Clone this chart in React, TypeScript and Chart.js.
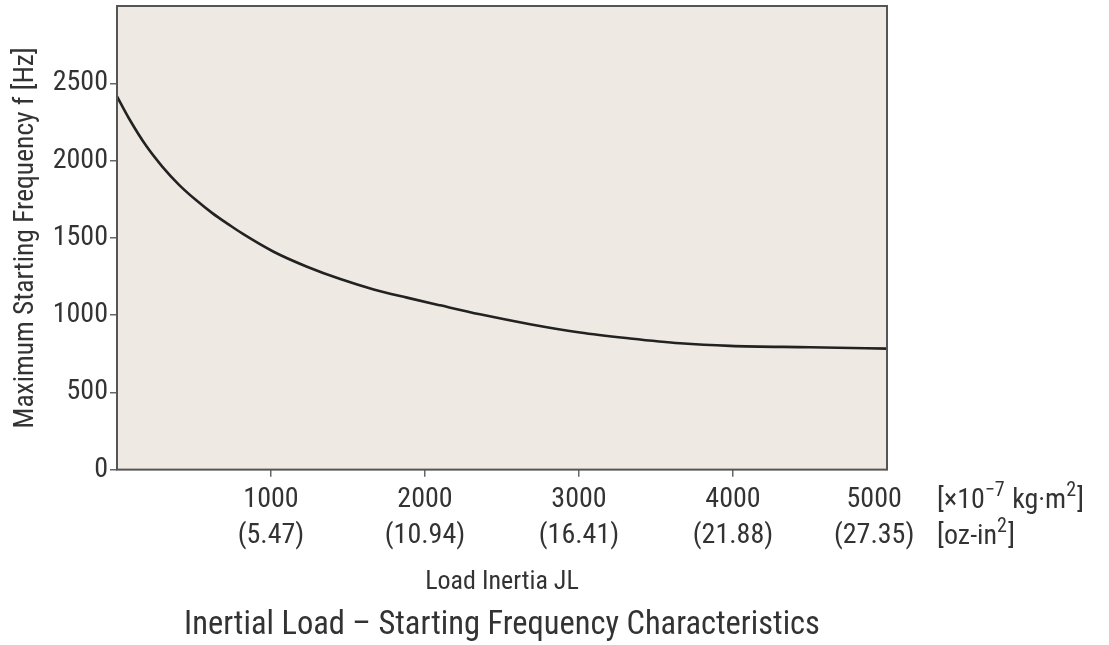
import React, { useEffect, useRef } from "react";
import { Chart, registerables } from "chart.js";

Chart.register(...registerables);

// Load inertia JL [x10^-7 kg·m²]
const inertia = [0, 78, 186, 294, 403, 511, 619, 727, 810, 1017, 1234, 1450, 1667, 1883, 2099, 2357, 2682, 3006, 3331, 3656, 3981, 4500, 5000];
// Maximum starting frequency f [Hz]
const frequency = [2415, 2272, 2100, 1961, 1843, 1746, 1660, 1585, 1530, 1410, 1313, 1233, 1166, 1113, 1063, 1005, 941, 887, 849, 818, 801, 792, 783];

const xTickValues = [1000, 2000, 3000, 4000, 5000];
const xTickOz = ["(5.47)", "(10.94)", "(16.41)", "(21.88)", "(27.35)"];
const yTickValues = [0, 500, 1000, 1500, 2000, 2500];

const FONT = "'Liberation Sans Narrow', 'Roboto Condensed', 'Liberation Sans', Arial, sans-serif";
const TEXT = "#333333";
const BG = "#eeeae3";

const areaPlugin = {
  id: "areaPlugin",
  beforeDraw(chart: any) {
    const { ctx, chartArea: a } = chart;
    ctx.save();
    ctx.fillStyle = BG;
    ctx.fillRect(a.left, a.top, a.right - a.left, a.bottom - a.top);
    ctx.restore();
  },
  afterDraw(chart: any) {
    const { ctx, chartArea: a } = chart;
    ctx.save();
    ctx.strokeStyle = "#555";
    ctx.lineWidth = 2;
    ctx.strokeRect(a.left, a.top, a.right - a.left, a.bottom - a.top);
    // unit labels
    const x0 = a.right + 50;
    const y1 = a.bottom + 31;
    const y2 = a.bottom + 67;
    ctx.fillStyle = TEXT;
    ctx.textBaseline = "middle";
    ctx.textAlign = "left";
    const big = `28px ${FONT}`;
    const small = `20px ${FONT}`;
    const parts1: [string, boolean][] = [["[×10", false], ["−7", true], [" kg·m", false], ["2", true], ["]", false]];
    const parts2: [string, boolean][] = [["[oz-in", false], ["2", true], ["]", false]];
    const drawParts = (parts: [string, boolean][], y: number) => {
      let x = x0;
      for (const [t, sup] of parts) {
        ctx.font = sup ? small : big;
        ctx.fillText(t, x, sup ? y - 10 : y);
        x += ctx.measureText(t).width + (sup ? 1 : 0);
      }
    };
    drawParts(parts1, y1);
    drawParts(parts2, y2);
    ctx.restore();
  },
};

export default function App() {
  const ref = useRef<HTMLCanvasElement | null>(null);
  useEffect(() => {
    if (!ref.current) return;
    const chart = new Chart(ref.current, {
      type: "line",
      data: {
        datasets: [
          {
            data: inertia.map((x, i) => ({ x, y: frequency[i] })),
            borderColor: "#222",
            borderWidth: 2.6,
            pointRadius: 0,
            cubicInterpolationMode: "monotone",
            fill: false,
          },
        ],
      },
      options: {
        animation: false,
        responsive: true,
        maintainAspectRatio: false,
        layout: { padding: { left: 0, right: 222, top: 6, bottom: 0 } },
        plugins: {
          legend: { display: false },
          tooltip: { enabled: false },
          title: {
            display: true,
            fullSize: false,
            position: "bottom",
            text: "Inertial Load – Starting Frequency Characteristics",
            color: TEXT,
            font: { family: FONT, size: 32.5, weight: "normal", lineHeight: 1.15 },
            padding: { top: 6, bottom: 0 },
          },
        },
        scales: {
          x: {
            type: "linear",
            min: 0,
            max: 5000,
            afterBuildTicks: (s: any) => {
              s.ticks = xTickValues.map((v) => ({ value: v }));
            },
            afterFit: (s: any) => {
              s.height = 132;
              s.paddingLeft = 0;
              s.paddingRight = 0;
            },
            ticks: {
              autoSkip: false,
              maxRotation: 0,
              color: TEXT,
              padding: 5,
              font: { family: FONT, size: 28, lineHeight: 1.286 },
              callback: (v: any) => {
                const i = xTickValues.indexOf(Number(v));
                if (i < 0) return "";
                const pad = v === 5000 ? "    " : "";
                return [String(v) + pad, xTickOz[i] + pad];
              },
            },
            grid: {
              drawOnChartArea: false,
              drawTicks: true,
              tickLength: 7,
              lineWidth: 1.5,
              color: (c: any) => (c.tick && c.tick.value === 5000 ? "rgba(0,0,0,0)" : "#666"),
            },
            border: { display: false },
            title: {
              display: true,
              text: "Load Inertia JL",
              color: TEXT,
              font: { family: FONT, size: 26 },
              padding: { top: 4, bottom: 4 },
            },
          },
          y: {
            type: "linear",
            min: 0,
            max: 3000,
            afterBuildTicks: (s: any) => {
              s.ticks = yTickValues.map((v) => ({ value: v }));
            },
            afterFit: (s: any) => {
              s.width = 117;
              s.paddingTop = 0;
              s.paddingBottom = 0;
            },
            ticks: {
              color: TEXT,
              padding: 2,
              font: { family: FONT, size: 28 },
              callback: (v: any) => String(v),
            },
            grid: {
              drawOnChartArea: false,
              drawTicks: true,
              tickLength: 7,
              lineWidth: 1.5,
              color: "#666",
            },
            border: { display: false },
            title: {
              display: true,
              text: "Maximum Starting Frequency f [Hz]",
              color: TEXT,
              font: { family: FONT, size: 27.5 },
              padding: { top: 10, bottom: 0 },
            },
          },
        },
      } as any,
      plugins: [areaPlugin],
    });
    return () => chart.destroy();
  }, []);
  return (
    <div style={{ position: "fixed", left: 0, top: 0, width: 1109, height: 645, background: "#fff" }}>
      <canvas ref={ref} />
    </div>
  );
}
